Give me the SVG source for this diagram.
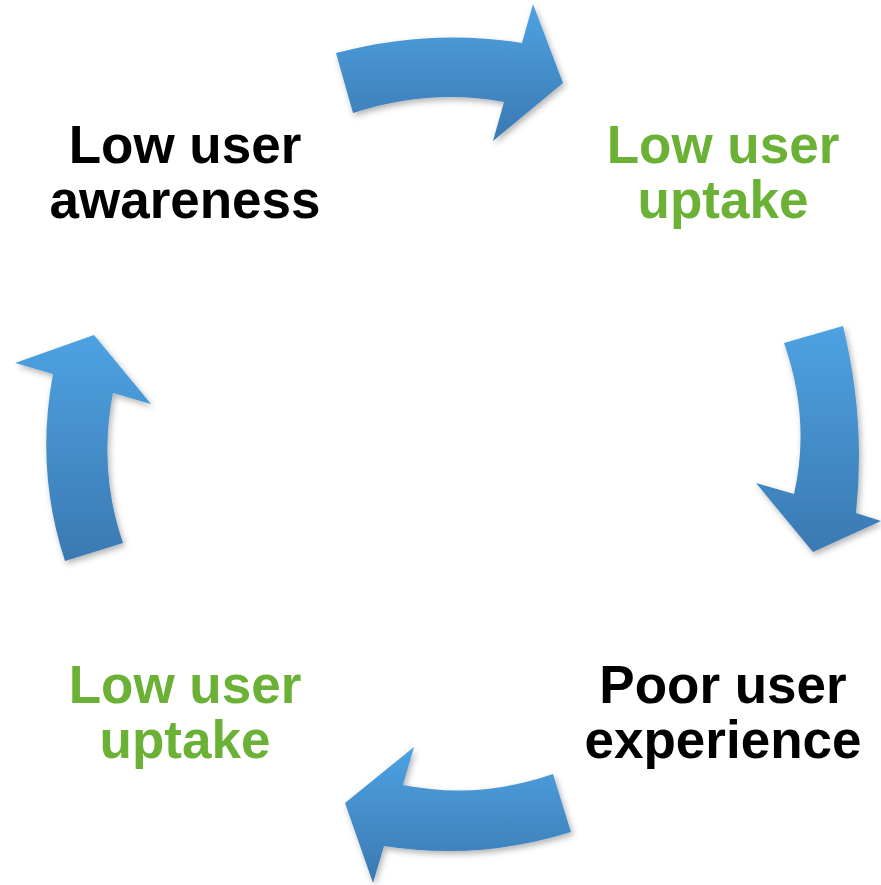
<svg xmlns="http://www.w3.org/2000/svg" width="881" height="885" viewBox="0 0 881 885">
<defs>
<linearGradient id="blue" x1="0" y1="0" x2="0" y2="1">
<stop offset="0" stop-color="#4ea2e2"/>
<stop offset="1" stop-color="#3a79b2"/>
</linearGradient>
<filter id="sh" x="-10%" y="-10%" width="130%" height="130%">
<feDropShadow dx="2" dy="3" stdDeviation="3" flood-color="#000" flood-opacity="0.3"/>
</filter>
<style>
.arr{fill:url(#blue);filter:url(#sh);}
.t{font-family:"Liberation Sans",Arial,sans-serif;font-weight:bold;font-size:53px;text-anchor:middle;}
.k{fill:#000;}
.g{fill:#6ab135;}
</style>
</defs>
<rect width="881" height="885" fill="#fff"/>
<g id="connectors">
<path class="arr" d="M336,53 Q430,28 522,43 L533,4 L563,83 L493,141 L504,102 Q430,88 353,113 Z"/>
<path class="arr" d="M784,343 L843,326 Q866,420 856,513 L881,521 L813,552 L756,483 L794,494 Q811,420 784,343 Z"/>
<path class="arr" d="M553,774 Q478,800 403,785 L414,747 L345,803 L373,883 L384,846 Q478,861 571,832 Z"/>
<path class="arr" d="M15,363 L94,335 L151,404 L113,393 Q98,470 123,543 L65,561 Q35,470 53,374 Z"/>
</g>
<g id="node-awareness">
<text class="t k" x="185" y="163">Low user</text>
<text class="t k" x="185" y="218">awareness</text>
</g>
<g id="node-uptake-top">
<text class="t g" x="723" y="163">Low user</text>
<text class="t g" x="723" y="218">uptake</text>
</g>
<g id="node-experience">
<text class="t k" x="723" y="703">Poor user</text>
<text class="t k" x="723" y="758">experience</text>
</g>
<g id="node-uptake-bottom">
<text class="t g" x="185" y="703">Low user</text>
<text class="t g" x="185" y="758">uptake</text>
</g>
</svg>
